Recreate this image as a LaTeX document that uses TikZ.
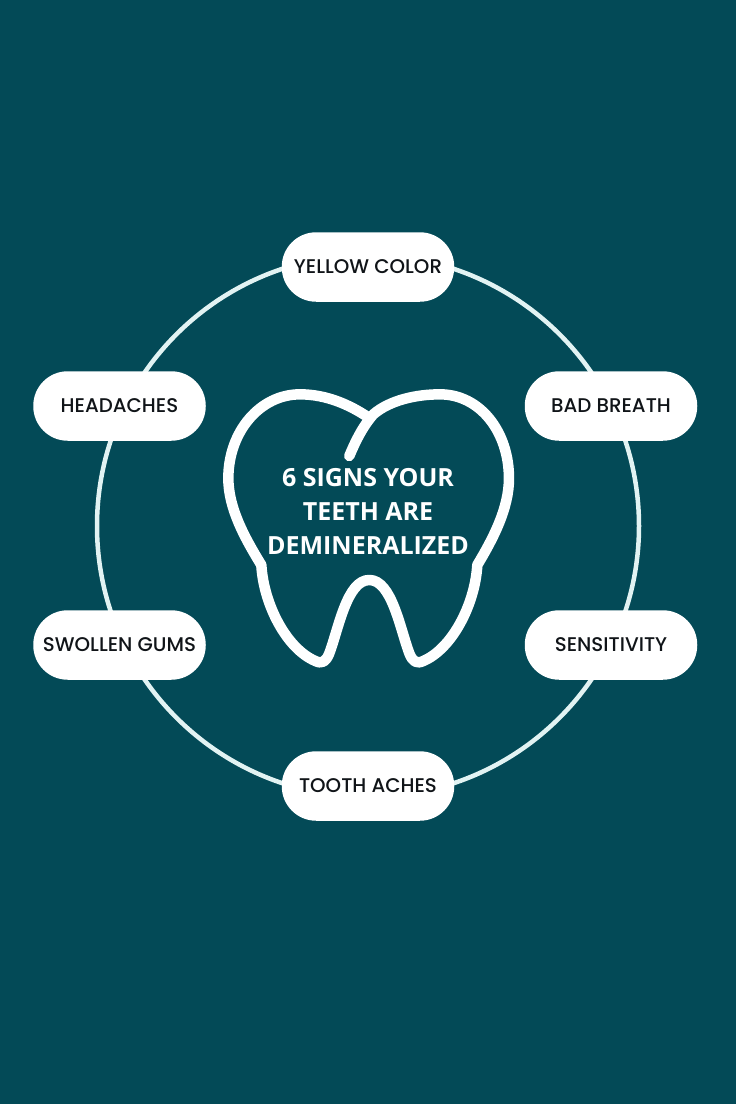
\documentclass[tikz,border=0pt]{standalone}
\usepackage{fontspec}
\setmainfont{Poppins Medium}
\newfontfamily\titlefont{Open Sans}
\definecolor{bgteal}{HTML}{034A57}
\definecolor{ringc}{HTML}{E2F3F3}
\definecolor{ink}{HTML}{101418}
\tikzset{
  pill/.style={draw=none,fill=white,rounded corners=34.5pt,minimum width=172.5pt,minimum height=69.5pt,inner sep=0pt,text=ink,font=\fontsize{19.8}{22}\selectfont},
  titletext/.style={text=white,align=center,font=\titlefont\bfseries\fontsize{25}{34}\selectfont},
  toothline/.style={draw=white!96!ringc,line width=10.5pt,line cap=round,line join=round}
}
\begin{document}
\begin{tikzpicture}[x=1pt,y=-1pt]
\useasboundingbox (0,0) rectangle (736,1104);
\fill[bgteal] (0,0) rectangle (736,1104);
\coordinate (ringcentre) at (368,526);
\draw[ringc,line width=4.5pt] (ringcentre) circle[radius=271pt];
\node[pill] (yellow) at (368,267) {YELLOW COLOR};
\node[pill] (headaches) at (119.5,406) {HEADACHES};
\node[pill] (breath) at (611,406) {BAD BREATH};
\node[pill] (gums) at (119.5,645) {SWOLLEN GUMS};
\node[pill] (sens) at (611,645) {SENSITIVITY};
\node[pill] (aches) at (368,786) {TOOTH ACHES};
\begin{scope}[shift={(210,375)},x=0.3333pt,y=-0.3333pt]
\draw[toothline] (418,243) .. controls (440,190) and (462,150) .. (490,118)
  .. controls (540,75) and (620,58) .. (690,58)
  .. controls (810,58) and (897,170) .. (897,310)
  .. controls (897,400) and (850,490) .. (802,570)
  .. controls (795,690) and (725,822) .. (640,858)
  .. controls (620,868) and (608,860) .. (598,835)
  .. controls (570,760) and (545,615) .. (478,615)
  .. controls (411,615) and (386,760) .. (358,835)
  .. controls (348,860) and (336,868) .. (316,858)
  .. controls (231,822) and (161,690) .. (154,570)
  .. controls (105,490) and (55,400) .. (55,310)
  .. controls (55,170) and (150,58) .. (270,58)
  .. controls (350,58) and (420,90) .. (475,127);
\end{scope}
\node[titletext] (title) at (368,511.5) {6 SIGNS YOUR\\TEETH ARE\\DEMINERALIZED};
\end{tikzpicture}
\end{document}
